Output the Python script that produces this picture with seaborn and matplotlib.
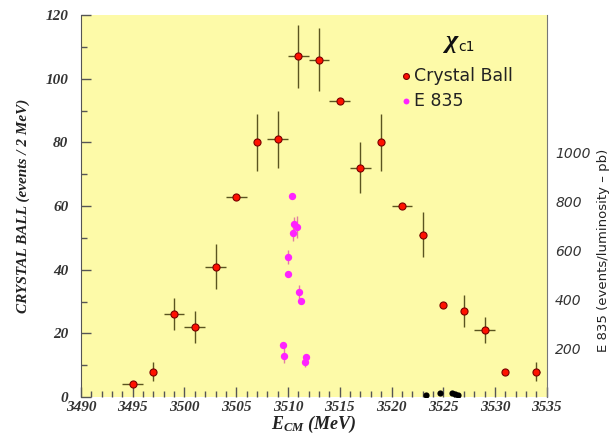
'''Crystal Ball vs E835 chi_c1 scan, redrawn with seaborn.'''

import numpy as np
import pandas as pd
import seaborn as sns
import matplotlib.pyplot as plt
from matplotlib.ticker import MultipleLocator

# Crystal Ball points (left axis, events / 2 MeV)
cb_energy = [3495, 3497, 3499, 3501, 3503, 3505, 3507, 3509, 3511, 3513,
             3515, 3517, 3519, 3521, 3523, 3525, 3527, 3529, 3531, 3534]
cb_events = [4, 8, 26, 22, 41, 63, 80, 81, 107, 106,
             93, 72, 80, 60, 51, 29, 27, 21, 8, 8]
cb_yerr = [0.5, 3, 5, 5, 7, 0.5, 9, 9, 10, 10,
           0.5, 8, 9, 0.5, 7, 0, 5, 4, 0, 3]
cb_xerr = [1, 0.3, 1, 1, 1, 1, 0.3, 1, 1, 1,
           1, 1, 0.3, 1, 0.3, 0, 0.3, 1, 0, 0.3]

# E835 points (right axis, events/luminosity - pb)
e835_energy = [3510.4, 3510.6, 3510.9, 3510.5, 3510.05, 3510.05,
               3511.1, 3511.3, 3509.5, 3509.6, 3511.7, 3511.6]
e835_xsec = [823, 706, 694, 668, 572, 501, 429, 394, 213, 169, 162, 142]
e835_yerr = [0, 30, 45, 30, 30, 0, 30, 0, 0, 30, 0, 20]

# off-peak E835 points near zero
e835_off_energy = [3523.3, 3524.7, 3525.8, 3526.1, 3526.4]
e835_off_xsec = [10, 15, 15, 12, 8]

cb = pd.DataFrame({'E': cb_energy, 'N': cb_events})
e835 = pd.DataFrame({'E': e835_energy, 'X': e835_xsec})
off = pd.DataFrame({'E': e835_off_energy, 'X': e835_off_xsec})

serif = dict(family='Liberation Serif', style='italic', weight='bold')

sns.set_style('white')
plt.rcParams['mathtext.fontset'] = 'custom'
plt.rcParams['mathtext.it'] = 'Liberation Serif:italic:bold'
plt.rcParams['mathtext.rm'] = 'Liberation Serif:bold'

fig = plt.figure(figsize=(6.13, 4.36), dpi=100)
ax = fig.add_axes([0.132, 0.0894, 0.760, 0.876])
ax.set_facecolor('#fdfaa8')

# crystal ball error bars then points
ax.errorbar(cb['E'], cb['N'], yerr=cb_yerr, xerr=cb_xerr, fmt='none',
            ecolor='#5a5420', elinewidth=1.0, zorder=2)
sns.scatterplot(data=cb, x='E', y='N', ax=ax, color='#ff1100', s=26,
                edgecolor='#7a0000', linewidth=0.8, zorder=3)

ax.set_xlim(3490, 3535)
ax.set_ylim(0, 120)
ax.xaxis.set_major_locator(MultipleLocator(5))
ax.xaxis.set_minor_locator(MultipleLocator(1))
ax.yaxis.set_major_locator(MultipleLocator(20))
ax.yaxis.set_minor_locator(MultipleLocator(10))
ax.tick_params(which='both', direction='in', colors='#555555',
               labelcolor='#333333', left=True, bottom=True)
ax.tick_params(which='major', length=7, width=1)
ax.tick_params(which='minor', length=4, width=1)
ax.tick_params(axis='y', pad=9)
ax.tick_params(axis='x', pad=3)
for lab in ax.get_xticklabels() + ax.get_yticklabels():
    lab.set_fontfamily('Liberation Serif')
    lab.set_fontstyle('italic')
    lab.set_fontweight('bold')
    lab.set_fontsize(11)
ax.set_xlabel('$E_{CM}$ (MeV)', fontsize=13, color='#222222', **serif)
ax.set_ylabel('CRYSTAL BALL (events / 2 MeV)', fontsize=11,
              color='#222222', **serif)
ax.xaxis.set_label_coords(0.5, -0.045)
ax.yaxis.set_label_coords(-0.11, 0.5)
ax.spines['top'].set_visible(False)
ax.spines['bottom'].set_visible(False)
ax.spines['left'].set_color('#555555')
ax.spines['right'].set_color('#777777')

# E835 on the right scale
ax2 = ax.twinx()
ax2.set_ylim(0, 1560)
ax2.errorbar(e835['E'], e835['X'], yerr=e835_yerr, fmt='none',
             ecolor='#e080a0', elinewidth=1.0, zorder=2)
sns.scatterplot(data=e835, x='E', y='X', ax=ax2, color='#ff22ff', s=28,
                edgecolor='#ff22ff', linewidth=0, zorder=3)
sns.scatterplot(data=off, x='E', y='X', ax=ax2, color='black', s=20,
                edgecolor='black', linewidth=0, zorder=3)
ax2.set_yticks([200, 400, 600, 800, 1000])
ax2.tick_params(axis='y', length=0, pad=6, labelcolor='#333333')
for lab in ax2.get_yticklabels():
    lab.set_fontfamily('DejaVu Sans')
    lab.set_fontstyle('italic')
    lab.set_fontsize(10)
ax2.set_ylabel('E 835 (events/luminosity \u2013 pb)', fontsize=9.5,
               color='#222222', family='DejaVu Sans')
ax2.yaxis.set_label_coords(1.107, 0.385)
ax2.set_xlabel('')
for side in ['top', 'bottom', 'left', 'right']:
    ax2.spines[side].set_visible(False)

# legend drawn by hand inside the frame
ax.text(0.775, 0.915, '$\\chi$', transform=ax.transAxes,
        fontsize=19, color='#111111')
ax.text(0.81, 0.905, 'c1', transform=ax.transAxes,
        fontsize=10, color='#111111', family='DejaVu Sans')
ax.scatter([0.697], [0.84], transform=ax.transAxes, s=18,
           color='#ff1100', edgecolor='#7a0000', linewidth=0.8)
ax.text(0.714, 0.84, 'Crystal Ball', transform=ax.transAxes,
        fontsize=12.5, va='center', color='#222222', family='DejaVu Sans')
ax.scatter([0.697], [0.776], transform=ax.transAxes, s=18,
           color='#ff22ff', linewidth=0)
ax.text(0.714, 0.776, 'E 835', transform=ax.transAxes,
        fontsize=12.5, va='center', color='#222222', family='DejaVu Sans')

plt.savefig('out.png', dpi=100, facecolor='white')
